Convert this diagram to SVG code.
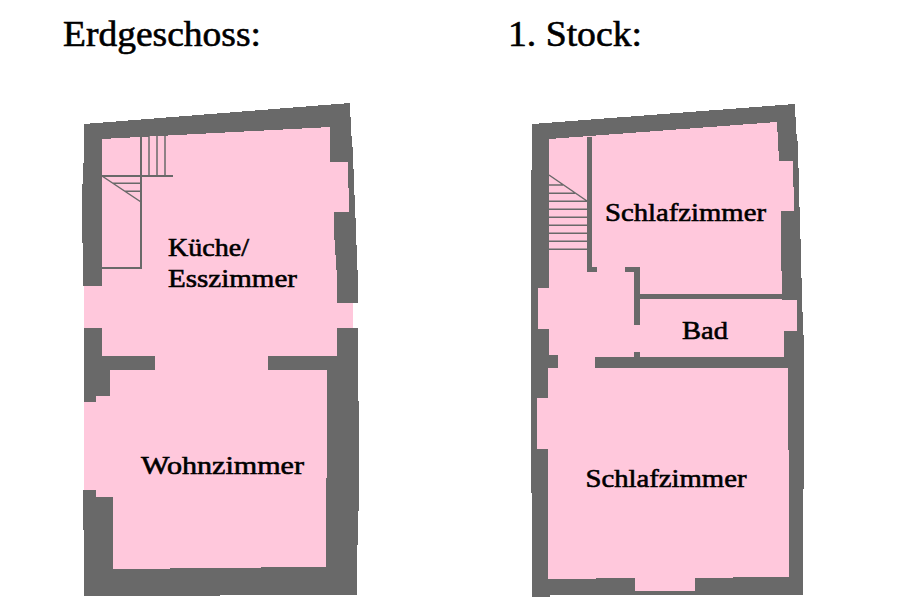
<svg xmlns="http://www.w3.org/2000/svg" width="900" height="600" viewBox="0 0 900 600">
<style>
.wall{fill:#696969;shape-rendering:crispEdges}
.room{fill:#ffc8dc;shape-rendering:crispEdges}
.ln{stroke:#696969;stroke-width:1.5;fill:none}
.ln2{stroke:#696969;stroke-width:2;fill:none;shape-rendering:crispEdges}
.hd{font-family:"Liberation Serif",serif;font-size:36px;fill:#000;stroke:#000;stroke-width:.6}
.lb{font-family:"Liberation Serif",serif;font-size:26px;fill:#000;stroke:#000;stroke-width:.6}
</style>
<rect width="900" height="600" fill="#fff"/>
<text class="hd" x="63" y="45.500" textLength="198" lengthAdjust="spacingAndGlyphs">Erdgeschoss:</text>
<text class="hd" x="508" y="45.500" textLength="134" lengthAdjust="spacingAndGlyphs">1. Stock:</text>
<g id="erdgeschoss">
<polygon class="wall" points="84,124 350,103 351,130 353,153 354,185 355,205 357,258 358,282 358,303 353,303 353,328 358,328 358,401 359,401 359,511 358,511 357,580 357,595 220,595 220,596 84,596 84,530 83,530 83,490 84,490 84,402 84,328 84,286 83,286 83,243 82,243 82,205 83,163 84,163"/>
<polygon class="room" points="102,139 330,127 330,162 348,162 349,212 334,212 334,233 337,277 337,303 353,303 353,328 337,328 337,356 268,356 268,370 327,370 327,478 326,478 326,567 261,567 261,568 170,568 170,569 113,569 113,497 96,497 96,490 84,490 84,402 96,402 96,396 110,396 110,370 155,370 155,356 102,356 102,328 84,328 84,286 102,286"/>
<g id="treppe-eg">
<path class="ln2" d="M141 137V269M102 268H141M102 176H173"/>
<path class="ln" d="M149 136V176M157 136V176M165 135V176M102 176L141 202M113 183.300H141M125 191.300H141"/>
</g>
<text id="kueche" class="lb" x="168" y="256" textLength="81" lengthAdjust="spacingAndGlyphs">Küche/</text>
<text id="esszimmer" class="lb" x="168" y="287" textLength="129" lengthAdjust="spacingAndGlyphs">Esszimmer</text>
<text id="wohnzimmer" class="lb" x="141" y="474" textLength="163" lengthAdjust="spacingAndGlyphs">Wohnzimmer</text>
</g>
<g id="stock1">
<polygon class="wall" points="532,124 795,104 796,130 798,145 799,190 801,255 802,300 804,347 804,489 803,489 803,595 550,595 550,597 532,597 532,493 531,493 531,170 532,170"/>
<polygon class="room" points="549,139 777,122 779,161 793,161 794,211 781,211 781,247 782,294 782,300 797,300 797,331 784,331 784,357 788,357 788,450 789,450 789,577 733,577 733,578 695,578 695,591 635,591 635,578 596,578 596,579 548,579 548,449 537,449 537,398 548,398 548,368 549,355 549,329 538,329 538,288 549,288"/>
<g class="wall">
<rect x="587" y="137" width="5" height="135"/>
<rect x="587" y="267" width="10" height="5"/>
<rect x="625" y="267" width="15" height="5"/>
<rect x="634" y="267" width="6" height="58"/>
<rect x="640" y="294" width="143" height="5"/>
<rect x="595" y="357" width="194" height="11"/>
<rect x="634" y="352" width="6" height="6"/>
<rect x="548" y="355" width="10" height="13"/>
</g>
<g id="treppe-os" class="ln">
<path d="M549 175L587 201M549 185H563M549 193.300H575M549 201.300H587M549 209.300H587M549 217.300H587M549 225.300H587M549 233.300H587M549 241.300H587M549 249.300H587"/>
</g>
<text id="schlaf1" class="lb" x="605" y="221" textLength="161" lengthAdjust="spacingAndGlyphs">Schlafzimmer</text>
<text id="bad" class="lb" x="682" y="339" textLength="46" lengthAdjust="spacingAndGlyphs">Bad</text>
<text id="schlaf2" class="lb" x="585.500" y="487" textLength="161" lengthAdjust="spacingAndGlyphs">Schlafzimmer</text>
</g>
</svg>
